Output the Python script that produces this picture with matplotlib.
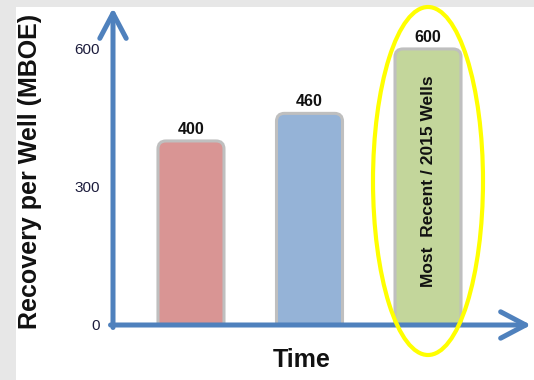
import matplotlib.pyplot as plt
from matplotlib.patches import FancyBboxPatch, Ellipse, Rectangle

plt.rcParams['font.family'] = ['Liberation Sans', 'DejaVu Sans']

# Recovery per well for each period
periods = ['Early', 'Mid', 'Most  Recent / 2015 Wells']
recovery = [400, 460, 600]
bar_colors = ['#d99594', '#95b3d7', '#c3d69b']
yticks = [0, 300, 600]

W, H = 534, 380
fig = plt.figure(figsize=(W / 100, H / 100), dpi=100)
fig.patch.set_facecolor('#e7e7e7')
# white panel, grey strip left and top
fig.add_artist(Rectangle((16 / W, 0), 1, (H - 7) / H, transform=fig.transFigure,
                         facecolor='white', edgecolor='none', zorder=-10))

ax_l, ax_b, ax_r, ax_t = 113, 55, 531, 372
ax = fig.add_axes([ax_l / W, ax_b / H, (ax_r - ax_l) / W, (ax_t - ax_b) / H])
ax.set_facecolor('none')
xlim = (-0.658, 2.869)
ylim = (0, 689)
ax.set_xlim(*xlim)
ax.set_ylim(*ylim)
for s in ax.spines.values():
    s.set_visible(False)
ax.set_xticks([])
ax.set_yticks(yticks)
ax.tick_params(axis='y', length=0, pad=9.5, labelsize=11, labelcolor='#1c1c3c')

# rounded bars
px_x = (ax_r - ax_l) / (xlim[1] - xlim[0])
px_y = (ax_t - ax_b) / (ylim[1] - ylim[0])
width = 0.557
rx = 8 / px_x
ry = 8 / px_y
for i, (v, c) in enumerate(zip(recovery, bar_colors)):
    p = FancyBboxPatch((i - width / 2, -ry), width, v + ry,
                       boxstyle=f'round,pad=0,rounding_size={rx}',
                       mutation_aspect=ry / rx,
                       facecolor=c, edgecolor='#bfbfbf', linewidth=2.2, zorder=2)
    ax.add_patch(p)
    ax.annotate(str(v), (i, v), xytext=(0, 3), textcoords='offset points',
                ha='center', va='bottom', fontsize=11.5, fontweight='bold',
                color='#111111')

ax.annotate(periods[2], (2, recovery[2] * 0.5), xytext=(0, 4),
            textcoords='offset points', rotation=90, ha='center', va='center',
            fontsize=12.5, fontweight='bold', color='#111111', zorder=3)

# axis arrows
arrow = dict(arrowstyle='->,head_length=1.8,head_width=0.95', color='#4f81bd',
             linewidth=3.6, shrinkA=0, shrinkB=0, mutation_scale=10,
             capstyle='round', joinstyle='round')
ax.annotate('', xy=(ax_l, ax_t), xytext=(ax_l, ax_b - 2.5),
            xycoords='figure pixels', textcoords='figure pixels',
            arrowprops=arrow, annotation_clip=False, zorder=4)
ax.annotate('', xy=(ax_r, ax_b), xytext=(ax_l - 2.5, ax_b),
            xycoords='figure pixels', textcoords='figure pixels',
            arrowprops=arrow, annotation_clip=False, zorder=4)

# highlight ring around the latest bar
fig.add_artist(Ellipse((428 / W, (H - 181) / H), 110 / W, 348 / H,
                       transform=fig.transFigure, fill=False,
                       edgecolor='#ffff00', linewidth=3, zorder=5))

fig.text(30 / W, (H - 171) / H, 'Recovery per Well (MBOE)', rotation=90,
         ha='center', va='center', fontsize=18, fontweight='bold', color='#111111')
fig.text(302 / W, (H - 360) / H, 'Time', ha='center', va='center',
         fontsize=18, fontweight='bold', color='#111111')

fig.savefig('out.png', dpi=100)
